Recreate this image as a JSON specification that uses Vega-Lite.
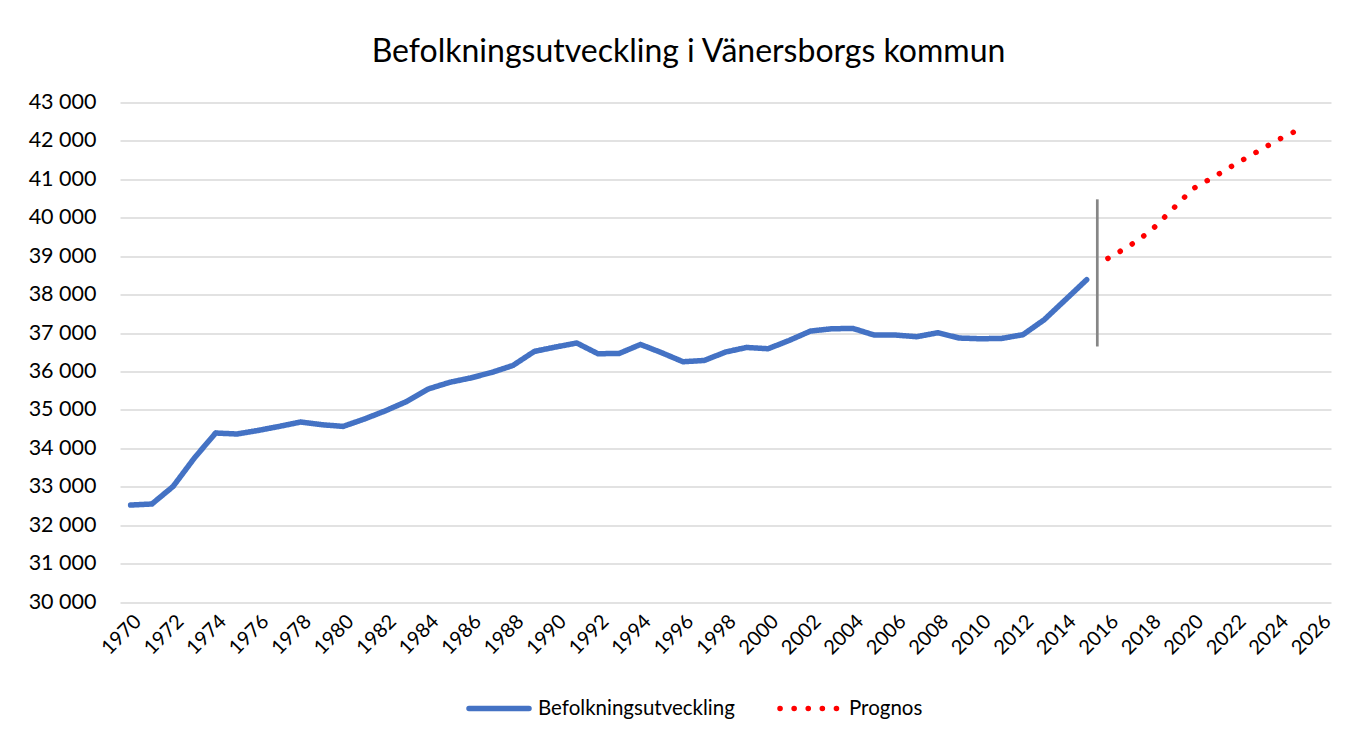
{
  "$schema": "https://vega.github.io/schema/vega-lite/v6.json",
  "autosize": "none",
  "width": 1211,
  "height": 499.5,
  "padding": {"left": 120, "top": 102.5, "right": 23, "bottom": 131},
  "background": "white",
  "config": {
    "font": "Lato",
    "view": {"stroke": null},
    "axis": {"labelFont": "Lato", "labelColor": "#000000", "titleFont": "Lato", "labelOverlap": false},
    "legend": {"labelFont": "Lato"}
  },
  "title": {
    "text": "Befolkningsutveckling i Vänersborgs kommun",
    "font": "Lato",
    "fontSize": 32,
    "fontWeight": "normal",
    "color": "#000000",
    "anchor": "middle",
    "dx": -37,
    "offset": 23
  },
  "datasets": {
    "series": [
      {"year": 1970, "value": 32524, "serie": "Befolkningsutveckling"},
      {"year": 1971, "value": 32550, "serie": "Befolkningsutveckling"},
      {"year": 1972, "value": 33008, "serie": "Befolkningsutveckling"},
      {"year": 1973, "value": 33747, "serie": "Befolkningsutveckling"},
      {"year": 1974, "value": 34398, "serie": "Befolkningsutveckling"},
      {"year": 1975, "value": 34372, "serie": "Befolkningsutveckling"},
      {"year": 1976, "value": 34465, "serie": "Befolkningsutveckling"},
      {"year": 1977, "value": 34570, "serie": "Befolkningsutveckling"},
      {"year": 1978, "value": 34684, "serie": "Befolkningsutveckling"},
      {"year": 1979, "value": 34614, "serie": "Befolkningsutveckling"},
      {"year": 1980, "value": 34570, "serie": "Befolkningsutveckling"},
      {"year": 1981, "value": 34762, "serie": "Befolkningsutveckling"},
      {"year": 1982, "value": 34978, "serie": "Befolkningsutveckling"},
      {"year": 1983, "value": 35220, "serie": "Befolkningsutveckling"},
      {"year": 1984, "value": 35542, "serie": "Befolkningsutveckling"},
      {"year": 1985, "value": 35715, "serie": "Befolkningsutveckling"},
      {"year": 1986, "value": 35830, "serie": "Befolkningsutveckling"},
      {"year": 1987, "value": 35975, "serie": "Befolkningsutveckling"},
      {"year": 1988, "value": 36158, "serie": "Befolkningsutveckling"},
      {"year": 1989, "value": 36521, "serie": "Befolkningsutveckling"},
      {"year": 1990, "value": 36635, "serie": "Befolkningsutveckling"},
      {"year": 1991, "value": 36740, "serie": "Befolkningsutveckling"},
      {"year": 1992, "value": 36461, "serie": "Befolkningsutveckling"},
      {"year": 1993, "value": 36470, "serie": "Befolkningsutveckling"},
      {"year": 1994, "value": 36703, "serie": "Befolkningsutveckling"},
      {"year": 1995, "value": 36487, "serie": "Befolkningsutveckling"},
      {"year": 1996, "value": 36253, "serie": "Befolkningsutveckling"},
      {"year": 1997, "value": 36287, "serie": "Befolkningsutveckling"},
      {"year": 1998, "value": 36505, "serie": "Befolkningsutveckling"},
      {"year": 1999, "value": 36625, "serie": "Befolkningsutveckling"},
      {"year": 2000, "value": 36591, "serie": "Befolkningsutveckling"},
      {"year": 2001, "value": 36808, "serie": "Befolkningsutveckling"},
      {"year": 2002, "value": 37051, "serie": "Befolkningsutveckling"},
      {"year": 2003, "value": 37111, "serie": "Befolkningsutveckling"},
      {"year": 2004, "value": 37120, "serie": "Befolkningsutveckling"},
      {"year": 2005, "value": 36948, "serie": "Befolkningsutveckling"},
      {"year": 2006, "value": 36948, "serie": "Befolkningsutveckling"},
      {"year": 2007, "value": 36904, "serie": "Befolkningsutveckling"},
      {"year": 2008, "value": 37008, "serie": "Befolkningsutveckling"},
      {"year": 2009, "value": 36870, "serie": "Befolkningsutveckling"},
      {"year": 2010, "value": 36851, "serie": "Befolkningsutveckling"},
      {"year": 2011, "value": 36860, "serie": "Befolkningsutveckling"},
      {"year": 2012, "value": 36956, "serie": "Befolkningsutveckling"},
      {"year": 2013, "value": 37346, "serie": "Befolkningsutveckling"},
      {"year": 2014, "value": 37866, "serie": "Befolkningsutveckling"},
      {"year": 2015, "value": 38387, "serie": "Befolkningsutveckling"},
      {"year": 2016, "value": 38944, "serie": "Prognos"},
      {"year": 2017, "value": 39263, "serie": "Prognos"},
      {"year": 2018, "value": 39650, "serie": "Prognos"},
      {"year": 2019, "value": 40200, "serie": "Prognos"},
      {"year": 2020, "value": 40755, "serie": "Prognos"},
      {"year": 2021, "value": 41067, "serie": "Prognos"},
      {"year": 2022, "value": 41400, "serie": "Prognos"},
      {"year": 2023, "value": 41710, "serie": "Prognos"},
      {"year": 2024, "value": 42027, "serie": "Prognos"},
      {"year": 2025, "value": 42300, "serie": "Prognos"}
    ],
    "marker": [
      {"year": 2015.5, "low": 36650, "high": 40480}
    ]
  },
  "layer": [
    {
      "data": {"name": "series"},
      "mark": {"type": "line", "strokeWidth": 5.5, "strokeCap": "round", "strokeJoin": "round"},
      "encoding": {
        "x": {
          "field": "year",
          "type": "quantitative",
          "scale": {"domain": [1969.5, 2026.5], "nice": false, "zero": false},
          "axis": {
            "title": null,
            "tickCount": 60,
            "values": [1970, 1972, 1974, 1976, 1978, 1980, 1982, 1984, 1986, 1988, 1990, 1992, 1994, 1996, 1998, 2000, 2002, 2004, 2006, 2008, 2010, 2012, 2014, 2016, 2018, 2020, 2022, 2024, 2026],
            "format": "d",
            "labelAngle": -45,
            "labelFontSize": 20,
            "labelPadding": 9,
            "ticks": false,
            "domain": false,
            "grid": false,
            "labelOverlap": false,
            "labelBound": false,
            "labelFlush": false
          }
        },
        "y": {
          "field": "value",
          "type": "quantitative",
          "scale": {"domain": [30000, 43000], "nice": false, "zero": false},
          "axis": {
            "title": null,
            "tickCount": 30,
            "values": [30000, 31000, 32000, 33000, 34000, 35000, 36000, 37000, 38000, 39000, 40000, 41000, 42000, 43000],
            "labelExpr": "replace(format(datum.value, ','), ',', ' ')",
            "labelFontSize": 21.5,
            "labelPadding": 24,
            "labelOverlap": false,
            "labelFlush": false,
            "labelBound": false,
            "ticks": false,
            "domain": false,
            "grid": true,
            "gridColor": "#D9D9D9",
            "gridWidth": 1.4
          }
        },
        "color": {
          "field": "serie",
          "type": "nominal",
          "scale": {"domain": ["Befolkningsutveckling", "Prognos"], "range": ["#4472C4", "#FF0000"]},
          "legend": {
            "title": null,
            "orient": "none",
            "direction": "horizontal",
            "legendX": 346,
            "legendY": 573,
            "symbolType": "stroke",
            "symbolSize": 3600,
            "symbolStrokeWidth": 5.5,
            "labelFontSize": 20.5,
            "labelLimit": 400,
            "labelColor": "#000000",
            "labelOffset": 6,
            "columnPadding": 34,
            "encode": {"symbols": {"update": {"strokeCap": {"value": "round"}}}}
          }
        },
        "strokeDash": {
          "field": "serie",
          "type": "nominal",
          "scale": {"domain": ["Befolkningsutveckling", "Prognos"], "range": [[1, 0], [0.1, 14]]},
          "legend": null
        }
      }
    },
    {
      "data": {"name": "marker"},
      "mark": {"type": "rule", "color": "#868686", "strokeWidth": 2.7},
      "encoding": {
        "x": {"field": "year", "type": "quantitative"},
        "y": {"field": "low", "type": "quantitative"},
        "y2": {"field": "high"}
      }
    }
  ]
}
